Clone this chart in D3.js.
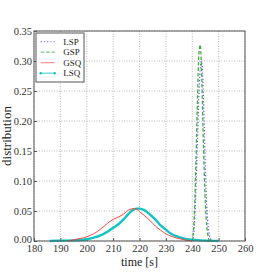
<!DOCTYPE html>
<html>
<head>
<meta charset="utf-8">
<script src="https://cdn.jsdelivr.net/npm/d3@7"></script>
<style>
  body { margin: 0; background: #fff; }
  text { font-family: "Liberation Serif", "DejaVu Serif", serif; }
</style>
</head>
<body>
<div id="visual"></div>
<script>
// series names
const seriesNames = ["LSP", "GSP", "GSQ", "LSQ"];

// LSP (blue dotted)
const lspTime = [240, 240.5, 241, 241.5, 242, 242.5, 243, 243.5, 244, 244.5, 245, 245.5, 246, 246.5, 247, 247.5];
const lspVal  = [0, 0.01, 0.04, 0.1, 0.17, 0.24, 0.285, 0.3, 0.27, 0.2, 0.12, 0.06, 0.025, 0.01, 0.003, 0];

// GSP (green dashed)
const gspTime = [239.5, 240, 240.5, 241, 241.5, 242, 242.5, 243, 243.5, 244, 244.5, 245, 245.5, 246, 246.5];
const gspVal  = [0, 0.003, 0.02, 0.07, 0.15, 0.24, 0.31, 0.327, 0.29, 0.2, 0.12, 0.06, 0.025, 0.008, 0];

// GSQ (red solid)
const gsqTime = [193, 195, 200, 203, 205, 208, 210, 212, 214, 216, 218, 219, 220, 222, 224, 226, 228, 230, 232, 234, 236, 238, 240];
const gsqVal  = [0, 0.002, 0.007, 0.013, 0.019, 0.03, 0.036, 0.04, 0.045, 0.052, 0.054, 0.053, 0.049, 0.042, 0.034, 0.025, 0.018, 0.012, 0.008, 0.005, 0.003, 0.001, 0];

// LSQ (cyan, thick)
const lsqTime = [186, 190, 195, 200, 203, 205, 208, 210, 212, 214, 216, 218, 219, 220, 222, 224, 226, 228, 230, 232, 234, 236, 238, 240, 243, 246, 250];
const lsqVal  = [0, 0.0005, 0.001, 0.003, 0.006, 0.009, 0.016, 0.022, 0.028, 0.036, 0.046, 0.053, 0.054, 0.054, 0.051, 0.044, 0.036, 0.026, 0.019, 0.012, 0.008, 0.005, 0.003, 0.002, 0.001, 0.0005, 0];

// tick labels
const xTicks = [180, 190, 200, 210, 220, 230, 240, 250, 260];
const yTicks = [0, 0.05, 0.1, 0.15, 0.2, 0.25, 0.3, 0.35];

const STYLE = {
    LSP: {color: "#5555ff", dash: "1.2,2", width: 1.2},
    GSP: {color: "#44aa44", dash: "3.5,2", width: 1.3},
    GSQ: {color: "#ff4444", dash: null, width: 1},
    LSQ: {color: "#11c4c4", dash: null, width: 2.4}
};

let margin = {top: 31, right: 28, bottom: 32, left: 34},
    width = 273 - margin.left - margin.right,
    height = 273 - margin.top - margin.bottom;

let svg = d3.select("#visual")
    .append("svg")
    .attr("width", 273)
    .attr("height", 273)
    .append("g")
    .attr("transform", "translate(" + margin.left + "," + margin.top + ")");

let x = d3.scaleLinear().domain([180, 260]).range([0, width]);
let y = d3.scaleLinear().domain([0, 0.35]).range([height, 0]);

// grid
svg.append("g")
    .selectAll("line")
    .data(xTicks)
    .enter().append("line")
    .attr("x1", d => x(d)).attr("x2", d => x(d))
    .attr("y1", 0).attr("y2", height)
    .style("stroke", "#aaa")
    .style("stroke-width", 0.8)
    .style("stroke-dasharray", "1,1.5");

svg.append("g")
    .selectAll("line")
    .data(yTicks)
    .enter().append("line")
    .attr("x1", 0).attr("x2", width)
    .attr("y1", d => y(d)).attr("y2", d => y(d))
    .style("stroke", "#aaa")
    .style("stroke-width", 0.8)
    .style("stroke-dasharray", "1,1.5");

// axes with inward ticks
svg.append("g")
    .attr("transform", "translate(0," + height + ")")
    .call(d3.axisBottom(x).tickValues(xTicks).tickSize(-3).tickPadding(4).tickFormat(d3.format("d")))
    .call(g => g.select(".domain").remove())
    .call(g => g.selectAll("line").style("stroke", "#555"))
    .selectAll("text")
    .style("font-family", "Liberation Serif, serif")
    .style("font-size", "10.5px")
    .style("fill", "#333");

svg.append("g")
    .call(d3.axisLeft(y).tickValues(yTicks).tickSize(-3).tickPadding(2).tickFormat(d3.format(".2f")))
    .call(g => g.select(".domain").remove())
    .call(g => g.selectAll("line").style("stroke", "#555"))
    .call(g => g.selectAll("text").attr("dy", d => d === 0 ? "0.1em" : "0.32em"))
    .selectAll("text")
    .style("font-family", "Liberation Serif, serif")
    .style("font-size", "10.5px")
    .style("fill", "#333");

// curves
let series = {
    LSP: lspTime.map((t, i) => [t, lspVal[i]]),
    GSP: gspTime.map((t, i) => [t, gspVal[i]]),
    GSQ: gsqTime.map((t, i) => [t, gsqVal[i]]),
    LSQ: lsqTime.map((t, i) => [t, lsqVal[i]])
};

let line = d3.line()
    .x(d => x(d[0]))
    .y(d => y(d[1]))
    .curve(d3.curveMonotoneX);

["LSQ", "GSQ", "LSP", "GSP"].forEach(function (name) {
    let s = STYLE[name];
    svg.append("path")
        .datum(series[name])
        .attr("d", line)
        .style("fill", "none")
        .style("stroke", s.color)
        .style("stroke-width", s.width)
        .style("stroke-dasharray", s.dash);
});

// frame
svg.append("rect")
    .attr("width", width)
    .attr("height", height)
    .style("fill", "none")
    .style("stroke", "#555")
    .style("stroke-width", 1);

// legend
let legend = svg.append("g").attr("transform", "translate(2,2)");
legend.append("rect")
    .attr("width", 48)
    .attr("height", 49)
    .style("fill", "#fff")
    .style("stroke", "#555")
    .style("stroke-width", 1);

let items = legend.selectAll(".item")
    .data(seriesNames)
    .enter().append("g")
    .attr("transform", (d, i) => "translate(0," + (8.7 + i * 10.5) + ")");

items.append("line")
    .attr("x1", 4.7).attr("x2", 18.7)
    .style("stroke", d => STYLE[d].color)
    .style("stroke-width", d => d == "LSQ" ? 1.2 : STYLE[d].width)
    .style("stroke-dasharray", d => STYLE[d].dash)
    .style("opacity", 0.7);

items.filter(d => d == "LSQ").selectAll("circle")
    .data([4.7, 18.7])
    .enter().append("circle")
    .attr("cx", d => d)
    .attr("r", 1.2)
    .style("fill", STYLE.LSQ.color);

items.append("text")
    .attr("x", 27.3)
    .attr("y", 3)
    .text(d => d)
    .style("font-size", "9px")
    .style("fill", "#222");

// axis titles
svg.append("text")
    .attr("x", width / 2)
    .attr("y", height + 25)
    .attr("text-anchor", "middle")
    .style("font-size", "12px")
    .style("fill", "#222")
    .text("time [s]");

svg.append("text")
    .attr("transform", "rotate(-90)")
    .attr("x", -height / 2)
    .attr("y", -23)
    .attr("text-anchor", "middle")
    .style("font-size", "13px")
    .style("fill", "#222")
    .text("distribution");
</script>
</body>
</html>
